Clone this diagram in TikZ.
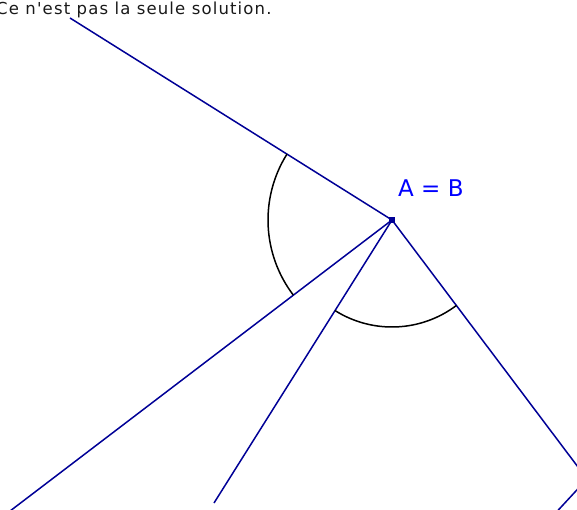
\documentclass[tikz,border=0pt]{standalone}
\usepackage{fontspec}
\setmainfont{DejaVu Sans}
\newfontfamily\spacedfont[LetterSpace=7]{DejaVu Sans}
\definecolor{linecol}{RGB}{0,0,150}
\definecolor{labelcol}{RGB}{0,0,255}
\definecolor{notecol}{RGB}{25,25,25}
\begin{document}
\begin{tikzpicture}[x=1pt,y=1pt,
  ray/.style={draw=linecol,line width=1.5pt},
  anglearc/.style={draw=black,line width=1.5pt},
  note/.style={inner sep=0pt,anchor=base west,font=\fontsize{16.5}{19}\spacedfont,text=notecol},
  ptlabel/.style={inner sep=0pt,anchor=base west,font=\fontsize{23}{27}\selectfont,text=labelcol},
  ptdot/.style={fill=linecol,inner sep=0pt,minimum size=5.5pt,shape=rectangle}]
\useasboundingbox (0,0) rectangle (577,509);
\clip (0,0) rectangle (577,509);
% points
\coordinate (O) at (392,289);
\coordinate (P1) at (70,491);
\coordinate (P2) at (-7,-15);
\coordinate (P3) at (214,6);
\coordinate (P4) at (587,30);
\coordinate (P5) at (550,-10);
% rays
\draw[ray] (O) -- (P1);
\draw[ray] (O) -- (P2);
\draw[ray] (O) -- (P3);
\draw[ray] (O) -- (P4);
\draw[ray] (P4) -- (P5);
% angle arcs
\draw[anglearc] (O) ++(147.9:124) arc[start angle=147.9,end angle=217.25,radius=124];
\draw[anglearc] (O) ++(237.8:107) arc[start angle=237.8,end angle=307,radius=107];
% point
\node[ptdot] (Odot) at (O) {};
% labels
\node[ptlabel] (lab) at (398,312) {A = B};
\node[note] (txt) at (-4,494) {Ce n'est pas la seule solution.};
\end{tikzpicture}
\end{document}
